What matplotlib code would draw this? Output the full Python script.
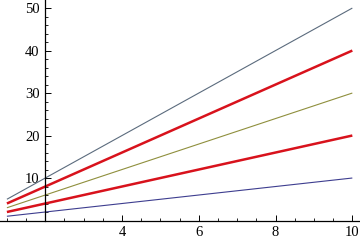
import numpy as np
import matplotlib
matplotlib.use("Agg")
import matplotlib.pyplot as plt
from matplotlib.ticker import MultipleLocator, FixedLocator

# data: y = k*x for x in [1, 10]
x_range = [1, 10]
slopes = [1, 2, 3, 4, 5]
colors = ["#3d3d8f", "#d8121c", "#8f8f3d", "#d8121c", "#5b6b7d"]
widths = [0.8, 1.8, 0.8, 1.8, 0.8]
x_ticks = [4, 6, 8, 10]
y_ticks = [10, 20, 30, 40, 50]

plt.rcParams['font.family'] = ['Liberation Serif', 'DejaVu Serif']

fig = plt.figure(figsize=(3.6, 2.42), dpi=100)
ax = fig.add_axes([0, 0, 1, 1])
ax.patch.set_alpha(0)

x = np.array(x_range, dtype=float)
for k, c, w in zip(slopes, colors, widths):
    ax.plot(x, k * x, color=c, lw=w, solid_capstyle='butt')

ax.set_xlim(0.82, 10.2)
ax.set_ylim(-5.06, 51.9)

# axes cross at (2, 0)
ax.spines['left'].set_position(('data', 2))
ax.spines['left'].set_bounds(0, 51.9)
ax.spines['bottom'].set_position(('data', 0))
ax.spines['top'].set_visible(False)
ax.spines['right'].set_visible(False)
for s in ('left', 'bottom'):
    ax.spines[s].set_linewidth(0.9)

ax.xaxis.set_major_locator(FixedLocator(x_ticks))
ax.xaxis.set_minor_locator(MultipleLocator(0.5))
ax.yaxis.set_major_locator(FixedLocator(y_ticks))
ax.yaxis.set_minor_locator(FixedLocator(np.arange(2, 51, 2)))

ax.tick_params(axis='both', which='major', direction='in', length=4, width=0.7,
               labelsize=10.5, pad=4)
ax.tick_params(axis='both', which='minor', direction='in', length=2, width=0.6)

fig.savefig("out.png", dpi=100)
